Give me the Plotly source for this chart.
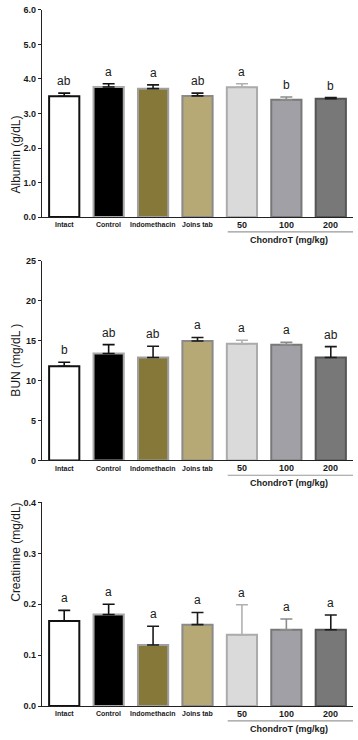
import plotly.graph_objects as go

categories = ["Intact", "Control", "Indomethacin", "Joins tab", "50", "100", "200"]

albumin_mean = [3.50, 3.77, 3.72, 3.51, 3.76, 3.40, 3.43]
albumin_err = [0.09, 0.09, 0.11, 0.08, 0.10, 0.08, 0.03]
albumin_letters = ["ab", "a", "a", "ab", "a", "b", "b"]
albumin_ticks = [0, 1, 2, 3, 4, 5, 6]
albumin_ticklabels = ["0.0", "1.0", "2.0", "3.0", "4.0", "5.0", "6.0"]

bun_mean = [11.8, 13.4, 12.9, 14.95, 14.6, 14.5, 12.9]
bun_err = [0.5, 1.1, 1.4, 0.45, 0.45, 0.3, 1.35]
bun_letters = ["b", "ab", "ab", "a", "a", "a", "ab"]
bun_ticks = [0, 5, 10, 15, 20, 25]
bun_ticklabels = ["0", "5", "10", "15", "20", "25"]

creat_mean = [0.167, 0.180, 0.120, 0.160, 0.140, 0.150, 0.150]
creat_err = [0.021, 0.020, 0.037, 0.024, 0.059, 0.021, 0.029]
creat_letters = ["a", "a", "a", "a", "a", "a", "a"]
creat_ticks = [0, 0.1, 0.2, 0.3, 0.4]
creat_ticklabels = ["0.0", "0.1", "0.2", "0.3", "0.4"]

group_label = "ChondroT (mg/kg)"

fill_colors = ["#ffffff", "#000000", "#857838", "#b6a975", "#dadada", "#a0a0a6", "#787878"]
line_colors = ["#111111", "#a8a8a8", "#a0a0a0", "#8a8a8a", "#ababab", "#787878", "#565656"]
err_colors = ["#111111", "#111111", "#1a1a1a", "#1a1a1a", "#b0b0b0", "#8c8c8c", "#1a1a1a"]

W, H = 358, 740
x_left, x_right = 42, 353
panels = [
    dict(mean=albumin_mean, err=albumin_err, letters=albumin_letters, top=5, bottom=215,
         rng=[0, 6], tv=albumin_ticks, tt=albumin_ticklabels, title="Albumin (g/dL)"),
    dict(mean=bun_mean, err=bun_err, letters=bun_letters, top=259.3, bottom=461.7,
         rng=[0, 25], tv=bun_ticks, tt=bun_ticklabels, title="BUN (mg/dL )"),
    dict(mean=creat_mean, err=creat_err, letters=creat_letters, top=504.3, bottom=710.7,
         rng=[0, 0.4], tv=creat_ticks, tt=creat_ticklabels, title="Creatinine (mg/dL)"),
]

font_family = "Arial, Liberation Sans, sans-serif"
txt = "#1a1a1a"

fig = go.Figure()
annotations = []
shapes = []
layout_axes = {}

for p_i, p in enumerate(panels):
    suffix = "" if p_i == 0 else str(p_i + 1)
    xa, ya = "x" + suffix, "y" + suffix
    for i, c in enumerate(categories):
        fig.add_trace(go.Bar(
            x=[i], y=[p["mean"][i]], xaxis=xa, yaxis=ya, width=0.68, name=c,
            marker=dict(color=fill_colors[i], line=dict(color=line_colors[i], width=2)),
            error_y=dict(type="data", array=[p["err"][i]], arrayminus=[0], symmetric=False,
                         color=err_colors[i], thickness=1.6, width=6),
            showlegend=False, hoverinfo="skip",
        ))
        annotations.append(dict(
            x=i, y=p["mean"][i] + p["err"][i], xref=xa, yref=ya,
            text=p["letters"][i], showarrow=False, yanchor="bottom", yshift=3,
            font=dict(family=font_family, size=12, color=txt),
        ))
        # x tick label
        is_num = c.isdigit()
        annotations.append(dict(
            x=i, y=1 - (p["bottom"] + 8) / H, xref=xa, yref="paper",
            text="<b>%s</b>" % c, showarrow=False, yanchor="middle",
            font=dict(family=font_family, size=9 if is_num else 7, color=txt),
        ))
    dom = [1 - p["bottom"] / H, 1 - p["top"] / H]
    layout_axes["xaxis" + suffix] = dict(
        domain=[x_left / W, x_right / W], anchor=ya, range=[-0.5, 6.5],
        showticklabels=False, showline=True, linecolor="#222", linewidth=1.3,
        ticks="", showgrid=False, zeroline=False, fixedrange=True,
    )
    layout_axes["yaxis" + suffix] = dict(
        domain=dom, anchor=xa, range=p["rng"], tickvals=p["tv"],
        ticktext=["<b>%s</b>" % t for t in p["tt"]],
        showline=True, linecolor="#222", linewidth=1.3,
        ticks="outside", ticklen=3, tickcolor="#222", tickwidth=1.2,
        tickfont=dict(family=font_family, size=9, color=txt),
        showgrid=False, zeroline=False, fixedrange=True,
    )
    # y-axis title
    annotations.append(dict(
        x=7 / W, y=(dom[0] + dom[1]) / 2, xref="paper", yref="paper",
        text=p["title"], textangle=-90, showarrow=False,
        font=dict(family=font_family, size=12, color=txt),
    ))
    # ChondroT group bracket line and label
    line_y = 1 - (p["bottom"] + 15) / H
    shapes.append(dict(type="line", xref=xa, yref="paper", x0=3.68, x1=6.5,
                       y0=line_y, y1=line_y, line=dict(color="#999", width=1.2)))
    annotations.append(dict(
        x=5.06, y=1 - (p["bottom"] + 23) / H, xref=xa, yref="paper",
        text="<b>%s</b>" % group_label, showarrow=False, yanchor="middle",
        font=dict(family=font_family, size=9, color=txt),
    ))

fig.update_layout(
    width=W, height=H, margin=dict(l=0, r=0, t=0, b=0),
    paper_bgcolor="white", plot_bgcolor="white", barmode="overlay",
    annotations=annotations, shapes=shapes, **layout_axes,
)

fig.write_html("out.html", config={"displayModeBar": False},
               post_script="document.body.style.margin='0';")
